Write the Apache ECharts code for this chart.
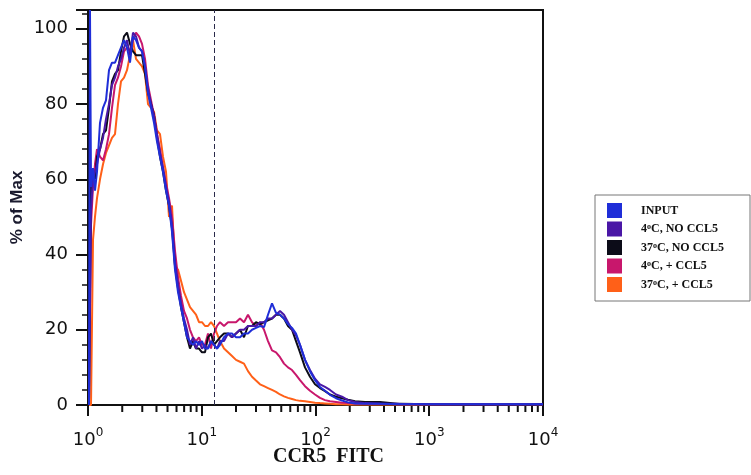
<!DOCTYPE html>
<html>
<head>
<meta charset="utf-8">
<script src="https://cdn.jsdelivr.net/npm/echarts@6/dist/echarts.min.js"></script>
<style>
  html, body { margin: 0; padding: 0; background: #ffffff; }
  #chart { width: 751px; height: 475px; }
</style>
</head>
<body>
<div id="chart"></div>
<script>
// CCR5 FITC channel values (log scale)
const xs = [1.020,1.041,1.063,1.107,1.152,1.200,1.275,1.355,1.439,1.530,1.625,1.727,1.835,1.950,2.073,2.202,2.340,2.487,2.642,2.808,2.984,3.171,3.369,3.580,3.804,4.043,4.295,4.564,4.850,5.154,5.476,5.819,6.184,6.571,6.982,7.419,7.884,8.377,8.902,9.459,10.05,10.68,11.35,12.06,12.82,13.62,14.47,15.69,17.02,18.45,20.00,21.70,23.52,25.50,27.66,29.99,32.52,35.26,38.23,41.46,44.95,48.74,52.85,57.31,62.14,67.38,73.06,80.86,89.46,99.0,109.5,121.2,134.1,151.4,171.0,193.1,222.5,272.4,369,553,1015,2281,10000];

// % of Max for each sample
const input = [0,105,58,63,57,62,75,79,81,89,91,91,93,95,97,95,91,98,97,95,94,90,83,79,75,70,66,62,57,53,46,36,30,26,22,18,17,16,17,16,17,15,15,17,16,15,16,18,19,19,18,18,19,19,20,20.5,21,20.7,24,27,24.5,24,23,21.5,20.5,19,16,12,9,6.6,4.8,3.8,2.7,1.8,1.2,0.7,0.4,0.3,0.3,0.2,0.2,0.2,0.2];
const c4NoCCL5 = [0,0,52,60,62,64,68,71,76,80,85,87,90,92,95,97,93,99,98,95,94,90,84,80,77,72,67,63,58,54,48,38,32,27,23,20,16,18,15,17,15,16,15,17,16,15,17,17,19,18,19,20,20,21,21,21,22,22,23,23,24,25,24,22,20,18.5,16,12,9.3,7,5.5,4.8,4,2.8,2.2,1.3,0.8,0.5,0.4,0.3,0.2,0.2,0.2];
const c37NoCCL5 = [0,0,60,62,60,66,68,72,73,79,86,88,89,94,98,99,96,94,93,93,93,88,83,80,77,71,66,62,57,53,47,37,31,26,22,18,15,17,15,15,14,14,18,19,16,17,18,19,19,18,19,20,18,21,21,22,21.5,22,22.5,23,24,24,23,21,20,17,14,10,7.5,5.5,4.5,3.7,2.8,2.2,1.8,1.4,1,0.8,0.8,0.3,0.2,0.1,0.1];
const c4PlusCCL5 = [0,0,48,58,64,68,66,65,68,72,79,85,87,90,94,95,94,97,99,98,96,92,85,81,77,72,68,63,59,55,50,41,34,29,25,23,20,18,17,18,16,16,19,15,19,21,22,21,22,22,22,23,22,24,22,21,22,20,17,14.5,14,12.7,11,10,9.3,8,6.6,5,3.8,2.8,1.9,1.3,1,0.8,0.6,0.5,0.4,0.3,0.3,0.2,0.2,0.1,0.1];
const c37PlusCCL5 = [0,0,0,44,50,55,60,64,67,69,71,72,80,86,87,89,93,97,92,91,90,88,80,79,78,73,72,66,62,50,53,37,36,33,30,28,26,25,24,22,22,21,21,22,21,19,17,15,14,13,12,11.5,11,9,7.5,6.5,5.5,5,4.5,4,3.5,2.8,2.3,1.9,1.6,1.3,1.1,1,0.8,0.6,0.5,0.4,0.3,0.2,0.2,0.1,0.1,0.1,0.1,0.1,0.1,0.1,0.1];

const seriesNames = ['INPUT', '4ºC, NO CCL5', '37ºC, NO CCL5', '4ºC, + CCL5', '37ºC, + CCL5'];
const gateValue = 12.8;
const minorTickValues = [2,3,4,5,6,7,8,9,20,30,40,50,60,70,80,90,200,300,400,500,600,700,800,900,2000,3000,4000,5000,6000,7000,8000,9000];

const colors = {
  'INPUT': '#1f2ed8',
  '4ºC, NO CCL5': '#4a17a6',
  '37ºC, NO CCL5': '#0c0c18',
  '4ºC, + CCL5': '#c8176c',
  '37ºC, + CCL5': '#ff6018'
};

function pairs(ys) { return xs.map((x, i) => [x, ys[i]]); }

const chart = echarts.init(document.getElementById('chart'), null, { renderer: 'canvas' });

function lineSeries(name, ys, z, extra) {
  return Object.assign({
    name: name,
    type: 'line',
    data: pairs(ys),
    showSymbol: false,
    symbol: 'none',
    z: z,
    color: colors[name],
    lineStyle: { width: 2, color: colors[name] },
    itemStyle: { color: colors[name] }
  }, extra || {});
}

const option = {
  backgroundColor: '#ffffff',
  animation: false,
  grid: {
    left: 88, right: 208, top: 10, bottom: 70,
    containLabel: false,
    outerBoundsMode: 'none',
    show: true, borderColor: '#111', borderWidth: 2, backgroundColor: 'transparent'
  },
  legend: {
    data: seriesNames,
    orient: 'vertical',
    left: 595, top: 195,
    padding: [8, 26, 9, 12],
    itemWidth: 15, itemHeight: 15, itemGap: 3.5,
    icon: 'rect',
    borderColor: '#777', borderWidth: 1,
    formatter: function (name) { return name.replace('º', '{s|o}'); },
    textStyle: {
      fontFamily: 'Liberation Serif', fontWeight: 'bold', fontSize: 12, color: '#111',
      padding: [0, 0, 0, 14],
      rich: {
        s: { fontFamily: 'Liberation Serif', fontWeight: 'bold', fontSize: 8, verticalAlign: 'top', lineHeight: 8, padding: [0, 0, 4, 0] }
      }
    }
  },
  xAxis: {
    type: 'log', logBase: 10, min: 1, max: 10000,
    name: 'CCR5  FITC', nameLocation: 'middle', nameGap: 42,
    nameMoveOverlap: false,
    nameTextStyle: { fontFamily: 'Liberation Serif', fontWeight: 'bold', fontSize: 20, color: '#111', padding: [0, 0, 0, 26] },
    axisLine: { lineStyle: { color: '#111', width: 2 } },
    axisTick: { length: 11, lineStyle: { color: '#111', width: 2 } },
    splitLine: { show: false },
    axisLabel: {
      margin: 22,
      formatter: function (v) { return '{b|10}{s|' + Math.round(Math.log10(v)) + '}'; },
      rich: {
        b: { fontFamily: 'DejaVu Sans', fontSize: 18, color: '#111', verticalAlign: 'bottom', lineHeight: 22 },
        s: { fontFamily: 'DejaVu Sans', fontSize: 12, color: '#111', verticalAlign: 'top', lineHeight: 12 }
      }
    }
  },
  yAxis: {
    type: 'value', min: 0, max: 105, interval: 20,
    name: '% of Max', nameLocation: 'middle', nameGap: 62,
    nameMoveOverlap: false,
    nameTextStyle: { fontFamily: 'Liberation Sans', fontWeight: 'bold', fontSize: 17, color: '#1a1a2e' },
    axisLine: { show: true, lineStyle: { color: '#111', width: 2 } },
    axisTick: { show: true, length: 12, lineStyle: { color: '#111', width: 2 } },
    minorTick: { show: true, splitNumber: 5, length: 6, lineStyle: { color: '#111', width: 1.5 } },
    splitLine: { show: false },
    axisLabel: {
      margin: 20, fontFamily: 'DejaVu Sans', fontSize: 18, color: '#111',
      showMaxLabel: false,
      formatter: function (v) { return v > 100 ? '' : String(v); }
    }
  },
  series: [
    lineSeries('37ºC, + CCL5', c37PlusCCL5, 2),
    lineSeries('4ºC, + CCL5', c4PlusCCL5, 3),
    lineSeries('37ºC, NO CCL5', c37NoCCL5, 4),
    lineSeries('4ºC, NO CCL5', c4NoCCL5, 5),
    lineSeries('INPUT', input, 6, {
      markLine: {
        silent: true, symbol: 'none', label: { show: false },
        lineStyle: { color: '#2a2a4a', width: 1, type: [5, 3] },
        data: [{ xAxis: gateValue }]
      }
    }),
    {
      name: 'minorTicks',
      type: 'custom',
      clip: false,
      silent: true,
      z: 1,
      data: minorTickValues.map(v => [v, 0]),
      renderItem: function (params, api) {
        const p = api.coord([api.value(0), 0]);
        return {
          type: 'line',
          shape: { x1: p[0], y1: p[1] + 1, x2: p[0], y2: p[1] + 7 },
          style: { stroke: '#111', lineWidth: 2 }
        };
      }
    }
  ]
};

chart.setOption(option);
</script>
</body>
</html>
